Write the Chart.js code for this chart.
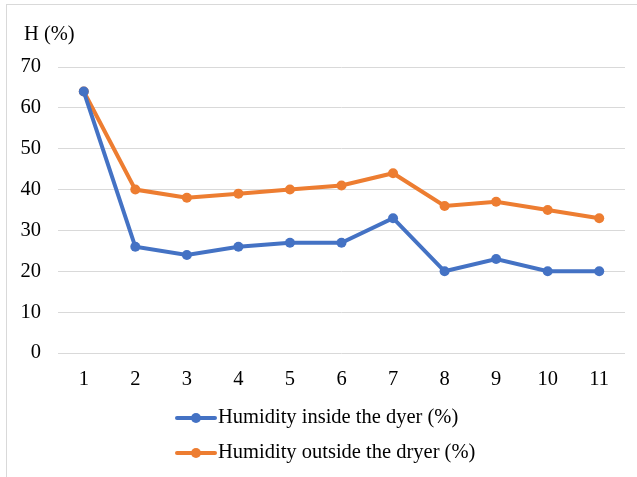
<!DOCTYPE html>
<html>
<head>
<meta charset="utf-8">
<script src="https://cdn.jsdelivr.net/npm/chart.js@4"></script>
<style>
  html, body { margin: 0; padding: 0; background: #fff; }
  #wrap { width: 637px; height: 477px; position: relative; }
</style>
</head>
<body>
<div id="wrap"><canvas id="c" width="637" height="477"></canvas></div>
<script>
// Drying run readings, one per measurement
const categories = ['1', '2', '3', '4', '5', '6', '7', '8', '9', '10', '11'];
const humidityInside = [64, 26, 24, 26, 27, 27, 33, 20, 23, 20, 20];
const humidityOutside = [64, 40, 38, 39, 40, 41, 44, 36, 37, 35, 33];
const seriesNames = ['Humidity inside the dyer (%)', 'Humidity outside the dryer (%)'];
const yAxisTitle = 'H (%)';

const FONT = '"Liberation Serif", "Times New Roman", serif';
const FONT_SIZE = 20.5;
const BLUE = '#4472C4';
const ORANGE = '#ED7D31';

// Frame, axis caption and stacked legend drawn around the plot
const decorations = {
  id: 'decorations',
  beforeDraw(chart) {
    const ctx = chart.ctx;
    ctx.save();
    ctx.strokeStyle = '#d9d9d9';
    ctx.lineWidth = 1;
    ctx.strokeRect(6.5, 4.5, 700, 600);
    ctx.restore();
  },
  afterDraw(chart) {
    const ctx = chart.ctx;
    ctx.save();
    ctx.fillStyle = '#000';
    ctx.font = FONT_SIZE + 'px ' + FONT;
    ctx.textBaseline = 'middle';
    ctx.textAlign = 'left';
    ctx.fillText(yAxisTitle, 24, 35);

    const rows = [418, 453];
    chart.data.datasets.forEach((ds, i) => {
      const y = rows[i];
      ctx.strokeStyle = ds.borderColor;
      ctx.lineWidth = 4;
      ctx.lineCap = 'round';
      ctx.beginPath();
      ctx.moveTo(177, y);
      ctx.lineTo(215, y);
      ctx.stroke();
      ctx.fillStyle = ds.borderColor;
      ctx.beginPath();
      ctx.arc(196, y, 5, 0, Math.PI * 2);
      ctx.fill();
      ctx.fillStyle = '#000';
      ctx.fillText(ds.label, 218, y);
    });
    ctx.restore();
  }
};

new Chart(document.getElementById('c'), {
  type: 'line',
  data: {
    labels: categories,
    datasets: [
      {
        label: seriesNames[0],
        data: humidityInside,
        borderColor: BLUE,
        backgroundColor: BLUE,
        borderWidth: 4,
        pointRadius: 5,
        pointBackgroundColor: BLUE,
        pointBorderColor: BLUE,
        pointBorderWidth: 0,
        tension: 0
      },
      {
        label: seriesNames[1],
        data: humidityOutside,
        borderColor: ORANGE,
        backgroundColor: ORANGE,
        borderWidth: 4,
        pointRadius: 5,
        pointBackgroundColor: ORANGE,
        pointBorderColor: ORANGE,
        pointBorderWidth: 0,
        tension: 0
      }
    ]
  },
  options: {
    responsive: false,
    animation: false,
    devicePixelRatio: 1,
    layout: { padding: { top: 67, right: 12, bottom: 0, left: 0 } },
    plugins: {
      legend: { display: false },
      tooltip: { enabled: false }
    },
    scales: {
      x: {
        offset: true,
        grid: { display: false, drawTicks: false },
        border: { display: false },
        ticks: { color: '#000', font: { family: FONT, size: FONT_SIZE }, padding: 14, maxRotation: 0 },
        afterFit(scale) { scale.height = 124; }
      },
      y: {
        min: 0,
        max: 70,
        ticks: { stepSize: 10, color: '#000', font: { family: FONT, size: FONT_SIZE }, padding: 17 },
        grid: { color: '#d9d9d9', lineWidth: 1, drawTicks: false },
        border: { display: false },
        afterFit(scale) { scale.width = 58; }
      }
    }
  },
  plugins: [decorations]
});
</script>
</body>
</html>
